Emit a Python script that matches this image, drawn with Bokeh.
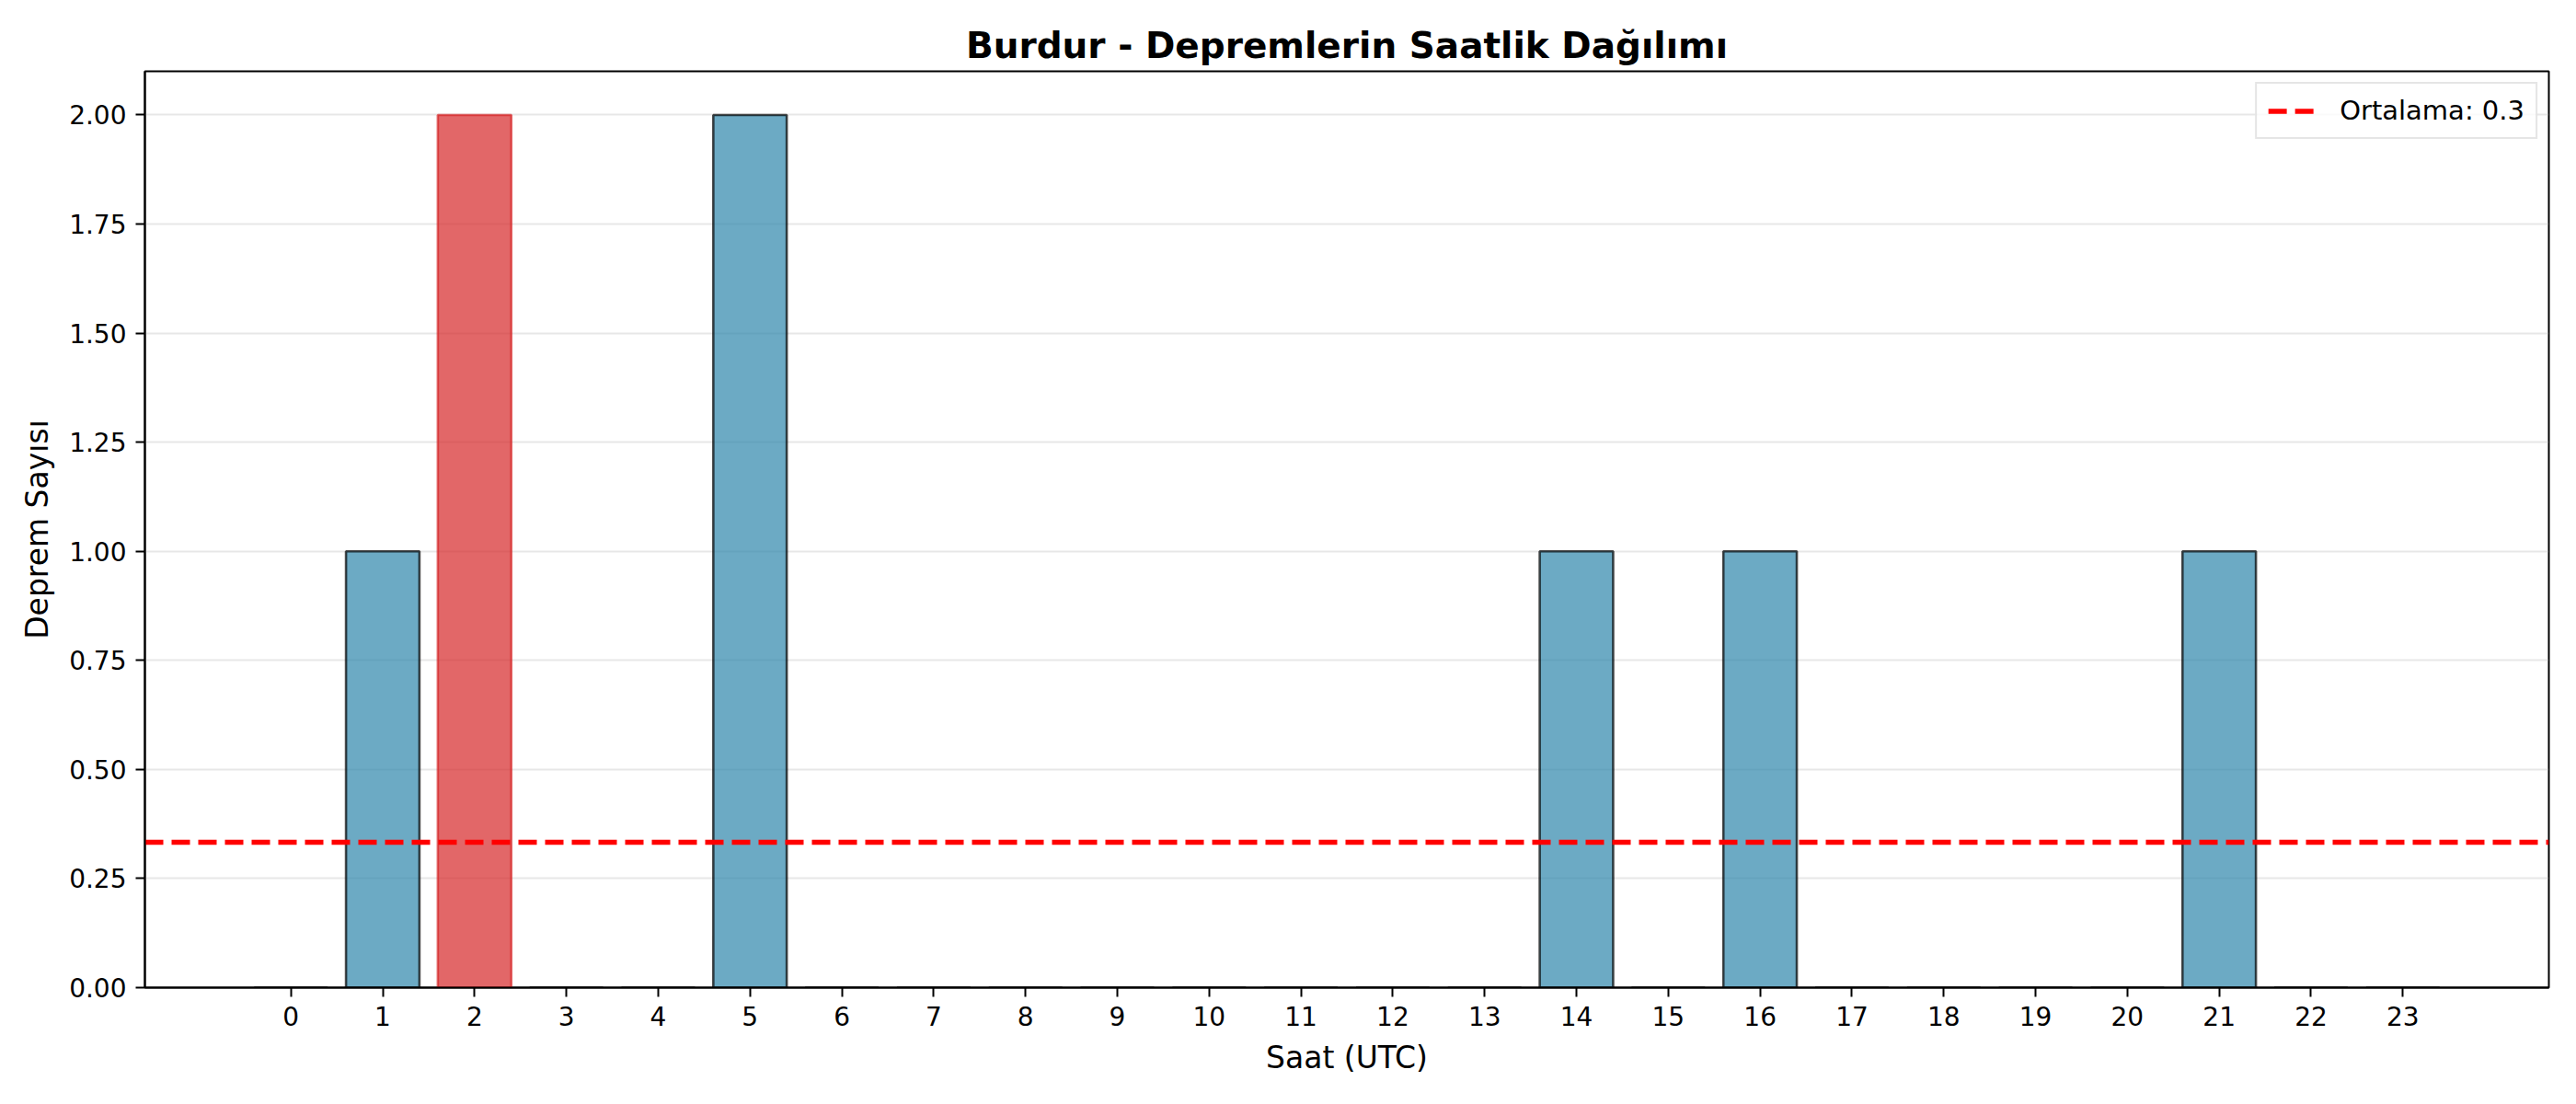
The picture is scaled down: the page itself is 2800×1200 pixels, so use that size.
import numpy as np
from bokeh.plotting import figure
from bokeh.models import Range1d, FixedTicker, NumeralTickFormatter
from bokeh.embed import file_html
from bokeh.resources import INLINE

# hourly earthquake counts (UTC)
hours = list(range(24))
counts = [0, 1, 2, 0, 0, 2, 0, 0, 0, 0, 0, 0, 0, 0, 1, 0, 1, 0, 0, 0, 0, 1, 0, 0]
y_ticks = [0.0, 0.25, 0.5, 0.75, 1.0, 1.25, 1.5, 1.75, 2.0]

mean = float(np.mean(counts))
peak = int(np.argmax(counts))

fill_colors = ["#d62728" if h == peak else "#2e86ab" for h in hours]
edge_colors = ["#d62728" if h == peak else "black" for h in hours]

x_lo, x_hi = -1.59, 24.59
y_lo, y_hi = 0, 2.1

FONT = "DejaVu Sans"

p = figure(width=2784, height=1184, output_backend="svg", toolbar_location=None,
           x_range=Range1d(x_lo, x_hi), y_range=Range1d(y_lo, y_hi),
           title="Burdur - Depremlerin Saatlik Dağılımı")
p.min_border_left = 157
p.min_border_right = 14
p.min_border_top = 77
p.min_border_bottom = 111

p.title.align = "center"
p.title.text_font = FONT
p.title.text_font_size = "39px"
p.title.text_font_style = "bold"
p.title.text_color = "black"
p.title.standoff = 12

p.vbar(x=hours, top=counts, width=0.8, fill_color=fill_colors, fill_alpha=0.7,
       line_color=edge_colors, line_alpha=0.7, line_width=2.6)

p.line(x=[x_lo, x_hi], y=[mean, mean], color="red", line_width=5.5, line_dash="20 9",
       legend_label="Ortalama: %.1f" % mean)

p.xgrid.visible = False
p.ygrid.grid_line_color = "#b0b0b0"
p.ygrid.grid_line_alpha = 0.3
p.ygrid.grid_line_width = 2

p.outline_line_color = "black"
p.outline_line_width = 2
p.outline_line_alpha = 1

for ax in (p.xaxis[0], p.yaxis[0]):
    ax.axis_line_width = 2
    ax.major_tick_line_width = 2
    ax.major_tick_out = 10
    ax.major_tick_in = 0
    ax.minor_tick_line_color = None
    ax.major_label_text_font = FONT
    ax.major_label_text_font_size = "28px"
    ax.major_label_text_color = "black"
    ax.major_label_standoff = 10
    ax.axis_label_text_font = FONT
    ax.axis_label_text_font_size = "33px"
    ax.axis_label_text_font_style = "normal"
    ax.axis_label_text_color = "black"
    ax.axis_label_standoff = 12

p.xaxis.ticker = FixedTicker(ticks=hours)
p.yaxis.ticker = FixedTicker(ticks=y_ticks)
p.yaxis.formatter = NumeralTickFormatter(format="0.00")
p.xaxis.axis_label = "Saat (UTC)"
p.yaxis.axis_label = "Deprem Sayısı"

p.legend.location = "top_right"
p.legend.margin = 12
p.legend.padding = 12
p.legend.spacing = 0
p.legend.glyph_width = 50
p.legend.glyph_height = 25
p.legend.label_height = 25
p.legend.label_standoff = 28
p.legend.label_text_font = FONT
p.legend.label_text_font_size = "29px"
p.legend.label_text_color = "black"
p.legend.border_line_color = "#cccccc"
p.legend.border_line_width = 2
p.legend.background_fill_alpha = 0.8

open("out.html", "w").write(file_html(p, INLINE))
